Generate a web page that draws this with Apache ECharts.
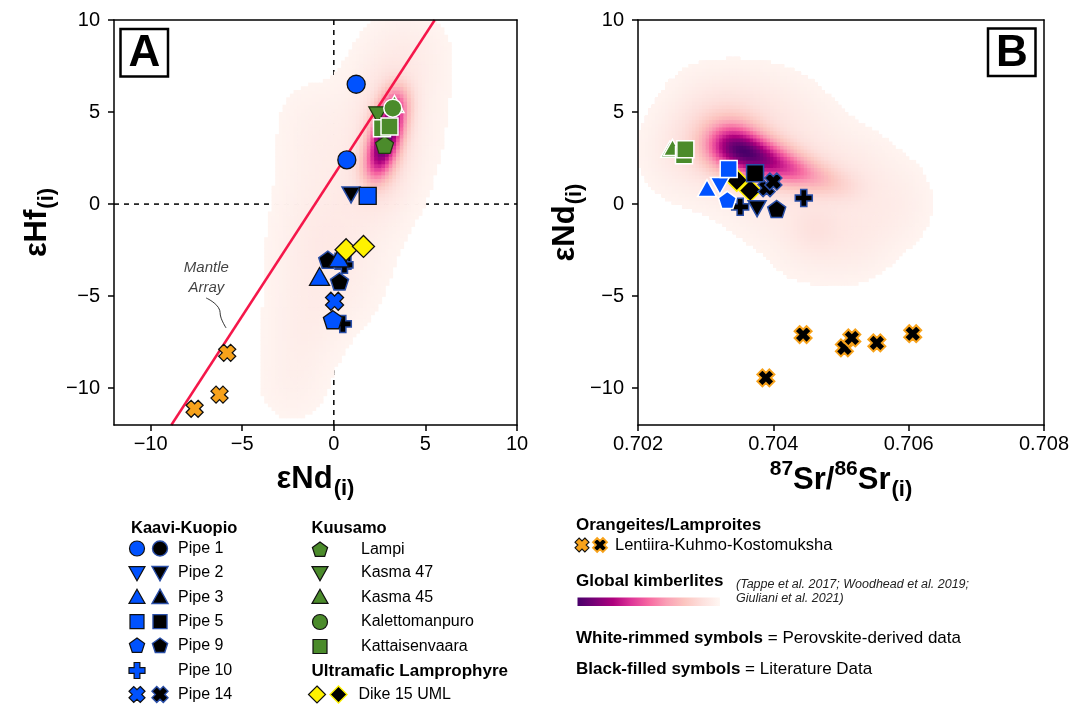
<!DOCTYPE html>
<html>
<head>
<meta charset="utf-8">
<script src="https://cdn.jsdelivr.net/npm/echarts@6/dist/echarts.min.js"></script>
<style>
  html, body { margin: 0; padding: 0; background: #fff; }
  #chart { width: 1082px; height: 705px; }
</style>
</head>
<body>
<div id="chart"></div>
<script>
// ---------- tick values ----------
const hfTicks = [-10, -5, 0, 5, 10];
const ndTicks = [-10, -5, 0, 5, 10];
const srTicks = [0.702, 0.704, 0.706, 0.708];

// ---------- Panel A: εNd(i) vs εHf(i) ----------
const pipe1HfNd     = [[1.22, 6.51], [0.71, 2.40]];
const pipe2LitHfNd  = [[0.94, 0.50]];
const pipe3HfNd     = [[0.27, -2.93], [-0.78, -3.93]];
const pipe5HfNd     = [[1.85, 0.45]];
const pipe5LitHfNd  = [[0.50, -3.10]];
const pipe9HfNd     = [[-0.05, -6.28]];
const pipe9LitHfNd  = [[-0.33, -3.02], [0.31, -4.20]];
const pipe10LitHfNd = [[0.58, -3.30], [0.49, -6.51]];
const pipe14HfNd    = [[0.04, -5.28]];
const dike15HfNd    = [[0.67, -2.48], [1.62, -2.30]];
const lampiHfNd     = [[2.77, 3.22]];
const kasma47HfNd   = [[2.40, 4.85]];
const kasma45HfNd   = [[3.31, 5.44]];
const kalettoHfNd   = [[3.22, 5.21]];
const kattaisHfNd   = [[2.63, 4.12], [3.04, 4.21]];
const lentiiraHfNd  = [[-5.82, -8.08], [-6.24, -10.35], [-7.60, -11.12]];
const mantleArray   = [[-8.87, -12], [5.51, 10]];
const mantleLeader  = [[-6.97, -5.10], [-6.30, -5.62], [-6.15, -6.20], [-5.88, -6.73]];
const mantleLabelAt = [[-6.96, -4.0]];

// ---------- Panel B: 87Sr/86Sr(i) vs εNd(i) ----------
const kasma45NdSr   = [[0.70247, 2.98], [0.70251, 3.08]];
const kattaisNdSr   = [[0.70268, 2.65], [0.70270, 2.98]];
const pipe5NdSr     = [[0.70334, 1.90]];
const pipe3NdSr     = [[0.70302, 0.87]];
const pipe2NdSr     = [[0.70321, 0.99]];
const pipe9NdSr     = [[0.70332, 0.23]];
const dike15LitNdSr = [[0.70346, 1.30], [0.70366, 0.74]];
const pipe5LitNdSr  = [[0.70373, 1.68]];
const pipe14LitNdSr = [[0.70390, 0.87], [0.70400, 1.23]];
const pipe10LitNdSr = [[0.70445, 0.33], [0.70351, -0.15]];
const pipe2LitNdSr  = [[0.70376, -0.25]];
const pipe9LitNdSr  = [[0.70405, -0.27]];
const lentiiraNdSr  = [[0.70444, -7.09], [0.70505, -7.81], [0.70516, -7.27],
                       [0.70553, -7.54], [0.70606, -7.04], [0.70389, -9.44]];

// ---------- global kimberlite density kernels: [x, y, sx, sy, weight] ----------
const kimbHfNdCore = [
  [3.50, 5.8, 0.55, 0.7, 0.5], [3.25, 5.0, 0.55, 0.7, 0.8], [3.00, 4.2, 0.55, 0.7, 1.0],
  [2.75, 3.4, 0.55, 0.7, 1.0], [2.50, 2.6, 0.55, 0.7, 0.85], [2.20, 1.8, 0.55, 0.7, 0.5],
  [2.80, 3.6, 0.95, 2.0, 0.28], [1.60, 1.0, 0.90, 1.2, 0.05], [-0.4, -1.8, 1.3, 1.6, 0.05]
];
const kimbHfNdHalo = [
  [3.6, 9.2], [4.6, 8.4],
  [2.3, 7.3], [3.3, 7.0], [4.5, 7.0],
  [-1.4, 5.0], [0.8, 5.0], [3.0, 5.0], [4.4, 5.0],
  [-1.4, 3.0], [0.6, 3.0], [2.6, 3.0], [4.1, 3.0],
  [-1.5, 1.0], [0.5, 1.0], [2.4, 1.0], [3.3, 1.0],
  [-1.8, -1.0], [0.3, -1.0], [2.3, -1.0],
  [-2.1, -3.0], [-0.2, -3.0], [1.6, -3.0],
  [-2.1, -5.0], [-0.5, -5.0], [0.9, -5.0],
  [-2.1, -7.0], [-0.9, -7.0],
  [-2.1, -9.0], [-2.3, -10.3]
];
const kimbNdSrCore = [
  [0.70336, 3.2, 0.00026, 0.85, 1.0], [0.70368, 2.7, 0.00024, 0.75, 0.9],
  [0.70400, 2.25, 0.00024, 0.7, 0.7], [0.70433, 1.8, 0.00022, 0.6, 0.48],
  [0.70468, 1.35, 0.00022, 0.6, 0.3], [0.70505, 0.95, 0.00022, 0.6, 0.13],
  [0.70330, 3.8, 0.00050, 1.5, 0.3], [0.70420, 2.0, 0.00050, 1.0, 0.15],
  [0.70462, -1.3, 0.00025, 0.9, 0.1]
];
const kimbNdSrHalo = [
  [0.70290, 5.9], [0.70345, 6.1], [0.70400, 5.9], [0.70440, 5.0],
  [0.70255, 3.5], [0.70310, 3.5], [0.70365, 3.5], [0.70420, 3.3], [0.70475, 3.6], [0.70530, 2.5],
  [0.70250, 2.0], [0.70305, 1.2], [0.70360, 1.2], [0.70415, 1.2], [0.70470, 1.2], [0.70525, 1.2], [0.70585, 1.0],
  [0.70375, -0.6], [0.70430, -0.8], [0.70485, -0.8], [0.70540, -0.8], [0.70590, -0.6],
  [0.70440, -2.6], [0.70495, -2.7], [0.70535, -2.3]
];
const haloHfNd = { sx: 1.3, sy: 1.3, w: 0.05 };
const haloNdSr = { sx: 0.00035, sy: 1.3, w: 0.05 };

const RdPu = ['#fff7f3', '#fde0dd', '#fcc5c0', '#fa9fb5', '#f768a1', '#dd3497', '#ae017e', '#7a0177', '#49006a'];

const FONT = '"Liberation Sans", Arial, Helvetica, sans-serif';
const BLUE = '#0052ff', GREEN = '#4b8b2b', YELLOW = '#fff200', ORANGE = '#f7a21b';
const NAVY = '#2a4fa8', DARK = '#111111';

// ---------- marker outlines (vertices in a [-1,1] box) ----------
function regular(n, start) {
  const pts = [];
  for (let k = 0; k < n; k++) {
    const a = (start + k * 360 / n) * Math.PI / 180;
    pts.push([Math.cos(a), Math.sin(a)]);
  }
  return pts;
}
function plusOutline(a) {
  return [[-a,-1],[a,-1],[a,-a],[1,-a],[1,a],[a,a],[a,1],[-a,1],[-a,a],[-1,a],[-1,-a],[-a,-a]];
}
function rotated(pts, deg) {
  const c = Math.cos(deg * Math.PI / 180), s = Math.sin(deg * Math.PI / 180);
  const r = pts.map(p => [p[0] * c - p[1] * s, p[0] * s + p[1] * c]);
  const m = Math.max(...r.map(p => Math.max(Math.abs(p[0]), Math.abs(p[1]))));
  return r.map(p => [p[0] / m, p[1] / m]);
}
const SHAPES = {
  square:   [[-1,-1],[1,-1],[1,1],[-1,1]],
  triUp:    [[0,-1],[1,0.78],[-1,0.78]],
  triDown:  [[-1,-0.78],[1,-0.78],[0,1]],
  diamond:  [[0,-1],[1,0],[0,1],[-1,0]],
  pentagon: regular(5, -90),
  plus:     plusOutline(0.36),
  cross:    rotated(plusOutline(0.42), 45)
};
function symbolOf(shape) {
  if (shape === 'circle') return 'circle';
  return 'path://M' + SHAPES[shape].map(p => (p[0] * 10).toFixed(2) + ',' + (p[1] * 10).toFixed(2)).join('L') + 'Z';
}

// ---------- density surface from kernels ----------
function densityCells(core, halo, haloSpec, xr, yr, nx, ny, thresh) {
  const comps = core.concat(halo.map(h => [h[0], h[1], haloSpec.sx, haloSpec.sy, haloSpec.w]));
  const dx = (xr[1] - xr[0]) / nx, dy = (yr[1] - yr[0]) / ny;
  const raw = [];
  let peak = 0;
  for (let i = 0; i < nx; i++) {
    for (let j = 0; j < ny; j++) {
      const x = xr[0] + (i + 0.5) * dx, y = yr[0] + (j + 0.5) * dy;
      let d = 0;
      for (const c of comps) {
        const u = (x - c[0]) / c[2], v = (y - c[1]) / c[3];
        d += c[4] * Math.exp(-0.5 * (u * u + v * v));
      }
      raw.push([x, y, d]);
      if (d > peak) peak = d;
    }
  }
  return raw.filter(r => r[2] >= thresh).map(r => [r[0], r[1], r[2] / peak]);
}
function cellRenderer(hx, hy) {
  return function (params, api) {
    const x = api.value(0), y = api.value(1);
    const a = api.coord([x - hx, y + hy]);
    const b = api.coord([x + hx, y - hy]);
    return {
      type: 'rect', silent: true,
      shape: { x: a[0], y: a[1], width: b[0] - a[0] + 0.7, height: b[1] - a[1] + 0.7 },
      style: { fill: api.visual('color') }
    };
  };
}
const cellsA = densityCells(kimbHfNdCore, kimbHfNdHalo, haloHfNd, [-12, 10], [-12, 10], 110, 110, 0.035);
const cellsB = densityCells(kimbNdSrCore, kimbNdSrHalo, haloNdSr, [0.702, 0.708], [-12, 10], 120, 110, 0.035);

// ---------- axes ----------
const minus = v => String(v).replace('-', '\u2212');
const axisText = { color: '#000', fontSize: 20, fontFamily: FONT };
const richName = {
  m: { fontSize: 31, fontWeight: 'bold', fontFamily: FONT, color: '#000' },
  s: { fontSize: 22, fontWeight: 'bold', fontFamily: FONT, color: '#000', padding: [20, 0, 0, 1] },
  p: { fontSize: 21, fontWeight: 'bold', fontFamily: FONT, color: '#000', padding: [0, 0, 22, 0] }
};
function mainAxis(gridIndex, min, max, ticks, fmt, extra) {
  return Object.assign({
    type: 'value', gridIndex, min, max, z: 10,
    axisLine: { show: true, onZero: false, lineStyle: { color: '#000', width: 1.5 } },
    axisTick: { show: true, inside: false, length: 6, customValues: ticks, lineStyle: { color: '#000', width: 1.5 } },
    axisLabel: Object.assign({ customValues: ticks, formatter: fmt, margin: 9 }, axisText),
    splitLine: { show: false },
    nameLocation: 'middle',
    nameTextStyle: { rich: richName }
  }, extra);
}
function frameAxis(gridIndex, min, max, position) {
  return {
    type: 'value', gridIndex, min, max, position, z: 10,
    axisLine: { show: true, onZero: false, lineStyle: { color: '#000', width: 1.5 } },
    axisTick: { show: false }, axisLabel: { show: false }, splitLine: { show: false }
  };
}

// ---------- marker series ----------
function markers(panel, name, data, shape, size, fill, stroke, lw, z) {
  return {
    type: 'scatter', name, data,
    xAxisIndex: panel, yAxisIndex: panel,
    symbol: symbolOf(shape), symbolSize: size, symbolKeepAspect: true,
    itemStyle: { color: fill, borderColor: stroke, borderWidth: lw, opacity: 1 },
    z: z || 4, silent: true, clip: false
  };
}

const series = [
  { type: 'custom', name: 'kimberlites A', xAxisIndex: 0, yAxisIndex: 0, data: cellsA,
    renderItem: cellRenderer(0.1, 0.1), encode: { x: 0, y: 1 }, clip: true, silent: true, z: 2 },
  { type: 'custom', name: 'kimberlites B', xAxisIndex: 1, yAxisIndex: 1, data: cellsB,
    renderItem: cellRenderer(0.000025, 0.1), encode: { x: 0, y: 1 }, clip: true, silent: true, z: 2 },
  // reference lines through zero
  { type: 'line', xAxisIndex: 0, yAxisIndex: 0, data: [[0, -12], [0, 10]], symbol: 'none', silent: true, z: 1,
    lineStyle: { color: '#000', width: 1.5, type: [5, 5] } },
  { type: 'line', xAxisIndex: 0, yAxisIndex: 0, data: [[-12, 0], [10, 0]], symbol: 'none', silent: true, z: 1,
    lineStyle: { color: '#000', width: 1.5, type: [5, 5] } },
  // mantle array
  { type: 'line', xAxisIndex: 0, yAxisIndex: 0, data: mantleArray, symbol: 'none', silent: true, z: 3, clip: true,
    lineStyle: { color: '#f5174a', width: 2.5 } },
  { type: 'line', xAxisIndex: 0, yAxisIndex: 0, data: mantleLeader, symbol: 'none', smooth: 0.5, silent: true, z: 3,
    lineStyle: { color: '#000', width: 0.8 } },
  { type: 'scatter', xAxisIndex: 0, yAxisIndex: 0, data: mantleLabelAt, symbolSize: 0, silent: true, z: 3,
    label: { show: true, position: 'inside', formatter: 'Mantle\nArray', fontStyle: 'italic', fontSize: 15,
             lineHeight: 20, fontFamily: FONT, color: '#111', align: 'center' } },

  // Panel A markers
  markers(0, 'Lentiira', lentiiraHfNd, 'cross', 17, ORANGE, DARK, 1.3),
  markers(0, 'Pipe 5 lit', pipe5LitHfNd, 'square', 16, '#000', NAVY, 1.5),
  markers(0, 'Pipe 10 lit', pipe10LitHfNd, 'plus', 17, '#000', NAVY, 1.5),
  markers(0, 'Pipe 9 lit', pipe9LitHfNd, 'pentagon', 18, '#000', NAVY, 1.5),
  markers(0, 'Pipe 2 lit', pipe2LitHfNd, 'triDown', 18, '#000', NAVY, 1.5),
  markers(0, 'Pipe 1', pipe1HfNd, 'circle', 18, BLUE, DARK, 1.3),
  markers(0, 'Pipe 3', pipe3HfNd, 'triUp', 20, BLUE, DARK, 1.3),
  markers(0, 'Pipe 5', pipe5HfNd, 'square', 17, BLUE, DARK, 1.3),
  markers(0, 'Pipe 9', pipe9HfNd, 'pentagon', 19, BLUE, DARK, 1.3),
  markers(0, 'Pipe 14', pipe14HfNd, 'cross', 18, BLUE, DARK, 1.3),
  markers(0, 'Dike 15 UML', dike15HfNd, 'diamond', 22, YELLOW, DARK, 1.3),
  markers(0, 'Lampi', lampiHfNd, 'pentagon', 18, GREEN, '#1f3a10', 1.2),
  markers(0, 'Kasma 47', kasma47HfNd, 'triDown', 18, GREEN, '#1f3a10', 1.2),
  markers(0, 'Kasma 45', kasma45HfNd, 'triUp', 19, GREEN, '#fff', 1.5),
  markers(0, 'Kalettomanpuro', kalettoHfNd, 'circle', 18, GREEN, '#fff', 1.5),
  markers(0, 'Kattaisenvaara', kattaisHfNd, 'square', 17, GREEN, '#fff', 1.5),

  // Panel B markers
  markers(1, 'Lentiira lit', lentiiraNdSr, 'cross', 17, '#000', ORANGE, 2),
  markers(1, 'Dike 15 lit', dike15LitNdSr, 'diamond', 22, '#000', YELLOW, 1.6),
  markers(1, 'Pipe 14 lit', pipe14LitNdSr, 'cross', 17, '#000', NAVY, 1.5),
  markers(1, 'Pipe 10 lit', pipe10LitNdSr, 'plus', 17, '#000', NAVY, 1.5),
  markers(1, 'Pipe 2 lit', pipe2LitNdSr, 'triDown', 18, '#000', NAVY, 1.5),
  markers(1, 'Pipe 9 lit', pipe9LitNdSr, 'pentagon', 18, '#000', NAVY, 1.5),
  markers(1, 'Pipe 5 lit', pipe5LitNdSr, 'square', 17, '#000', NAVY, 1.5),
  markers(1, 'Pipe 3', pipe3NdSr, 'triUp', 19, BLUE, '#fff', 1.5),
  markers(1, 'Pipe 2', pipe2NdSr, 'triDown', 19, BLUE, '#fff', 1.5),
  markers(1, 'Pipe 9', pipe9NdSr, 'pentagon', 18, BLUE, '#fff', 1.5),
  markers(1, 'Pipe 5', pipe5NdSr, 'square', 17, BLUE, '#fff', 1.5),
  markers(1, 'Kasma 45', kasma45NdSr, 'triUp', 18, GREEN, '#fff', 1.5),
  markers(1, 'Kattaisenvaara', kattaisNdSr, 'square', 17, GREEN, '#fff', 1.5)
];

// ---------- key below the panels ----------
const g = [];
function keySymbol(shape, cx, cy, size, fill, stroke, lw) {
  if (shape === 'circle') {
    g.push({ type: 'circle', z: 50, shape: { cx, cy, r: size / 2 }, style: { fill, stroke, lineWidth: lw } });
  } else {
    const r = size / 2;
    g.push({ type: 'polygon', z: 50, shape: { points: SHAPES[shape].map(p => [cx + p[0] * r, cy + p[1] * r]) },
             style: { fill, stroke, lineWidth: lw } });
  }
}
function keyText(text, x, y, opts) {
  g.push({ type: 'text', z: 50, x, y, style: Object.assign({
    text, fontFamily: FONT, fontSize: 16, fill: '#000', textAlign: 'left', textVerticalAlign: 'middle',
    align: 'left', verticalAlign: 'middle' }, opts || {}) });
}
const bold = { fontWeight: 'bold', fontSize: 17 };

// Kaavi-Kuopio block
keyText('Kaavi-Kuopio', 131, 528, { fontWeight: 'bold', fontSize: 16.5 });
const kaaviRows = [
  ['Pipe 1', 'circle', true], ['Pipe 2', 'triDown', true], ['Pipe 3', 'triUp', true],
  ['Pipe 5', 'square', true], ['Pipe 9', 'pentagon', true], ['Pipe 10', 'plus', false], ['Pipe 14', 'cross', true]
];
const kaaviY = [548.5, 572.8, 597.2, 621.6, 646, 670.5, 694.5];
kaaviRows.forEach((r, i) => {
  const y = kaaviY[i];
  const sz = r[1] === 'circle' ? 15 : (r[1] === 'square' ? 14 : 16);
  keySymbol(r[1], 137, y, sz, BLUE, DARK, 1.2);
  if (r[2]) keySymbol(r[1], 160, y, sz, '#000', NAVY, 1.4);
  keyText(r[0], 178, y);
});

// Kuusamo block
keyText('Kuusamo', 311.5, 528.5, { fontWeight: 'bold', fontSize: 16.5 });
const kuusamoRows = [['Lampi', 'pentagon'], ['Kasma 47', 'triDown'], ['Kasma 45', 'triUp'], ['Kalettomanpuro', 'circle'], ['Kattaisenvaara', 'square']];
const kuusamoY = [550, 572.8, 597.2, 622, 646.5];
kuusamoRows.forEach((r, i) => {
  const sz = r[1] === 'circle' ? 15 : (r[1] === 'square' ? 14 : 16);
  keySymbol(r[1], 320, kuusamoY[i], sz, GREEN, DARK, 1.2);
  keyText(r[0], 361, kuusamoY[i]);
});
keyText('Ultramafic Lamprophyre', 311.5, 671.5, bold);
keySymbol('diamond', 317, 694.5, 17, YELLOW, DARK, 1.2);
keySymbol('diamond', 338.5, 694.5, 17, '#000', YELLOW, 1.4);
keyText('Dike 15 UML', 358.5, 694.5);

// Right-hand block
keyText('Orangeites/Lamproites', 576, 525, bold);
keySymbol('cross', 582, 545, 14, ORANGE, DARK, 1.1);
keySymbol('cross', 600, 545, 14, '#000', ORANGE, 1.8);
keyText('Lentiira-Kuhmo-Kostomuksha', 615, 545, { fontSize: 16.5 });
keyText('Global kimberlites', 576, 581, bold);
keyText('(Tappe et al. 2017; Woodhead et al. 2019;', 736, 584.5, { fontSize: 12.5, fontStyle: 'italic', fill: '#222' });
keyText('Giuliani et al. 2021)', 736, 599, { fontSize: 12.5, fontStyle: 'italic', fill: '#222' });
g.push({ type: 'rect', z: 50, shape: { x: 577.5, y: 597.5, width: 142.5, height: 8.5 },
  style: { fill: new echarts.graphic.LinearGradient(0, 0, 1, 0,
    RdPu.slice().reverse().map((c, i) => ({ offset: i / (RdPu.length - 1), color: c }))) } });
keyText('{b|White-rimmed symbols} = Perovskite-derived data', 576, 638.5,
  { fontSize: 17, rich: { b: { fontWeight: 'bold', fontSize: 17, fontFamily: FONT, fill: '#000' } } });
keyText('{b|Black-filled symbols} = Literature Data', 576, 669.5,
  { fontSize: 17, rich: { b: { fontWeight: 'bold', fontSize: 17, fontFamily: FONT, fill: '#000' } } });

// Panel letters
function panelLetter(letter, x, y) {
  g.push({ type: 'rect', z: 60, shape: { x, y, width: 47.5, height: 47.5 },
           style: { fill: '#fff', stroke: '#000', lineWidth: 2.5 } });
  g.push({ type: 'text', z: 61, x: x + 23.8, y: y + 25, style: {
    text: letter, fontFamily: FONT, fontWeight: 'bold', fontSize: 44, fill: '#000',
    textAlign: 'center', textVerticalAlign: 'middle', align: 'center', verticalAlign: 'middle' } });
}
panelLetter('A', 120.5, 29);
panelLetter('B', 988, 28.5);

// ---------- chart ----------
const chart = echarts.init(document.getElementById('chart'), null, { renderer: 'canvas' });
chart.setOption({
  animation: false,
  backgroundColor: '#fff',
  grid: [
    { left: 114, top: 20, width: 403, height: 405, containLabel: false },
    { left: 638, top: 20, width: 406, height: 405, containLabel: false }
  ],
  xAxis: [
    mainAxis(0, -12, 10, ndTicks, minus, { name: '{m|εNd}{s|(i)}', nameGap: 33 }),
    mainAxis(1, 0.702, 0.708, srTicks, v => v.toFixed(3), { name: '{p|87}{m|Sr/}{p|86}{m|Sr}{s|(i)}', nameGap: 33 }),
    frameAxis(0, -12, 10, 'top'),
    frameAxis(1, 0.702, 0.708, 'top')
  ],
  yAxis: [
    mainAxis(0, -12, 10, hfTicks, minus, { name: '{m|εHf}{s|(i)}', nameGap: 56, axisLabel: Object.assign({ customValues: hfTicks, formatter: minus, margin: 14 }, axisText) }),
    mainAxis(1, -12, 10, ndTicks, minus, { name: '{m|εNd}{s|(i)}', nameGap: 43, axisLabel: Object.assign({ customValues: ndTicks, formatter: minus, margin: 14 }, axisText) }),
    frameAxis(0, -12, 10, 'right'),
    frameAxis(1, -12, 10, 'right')
  ],
  visualMap: [{
    type: 'continuous', show: false, seriesIndex: [0, 1], dimension: 2,
    min: 0, max: 1, inRange: { color: RdPu }
  }],
  series,
  graphic: { elements: g }
});
</script>
</body>
</html>
